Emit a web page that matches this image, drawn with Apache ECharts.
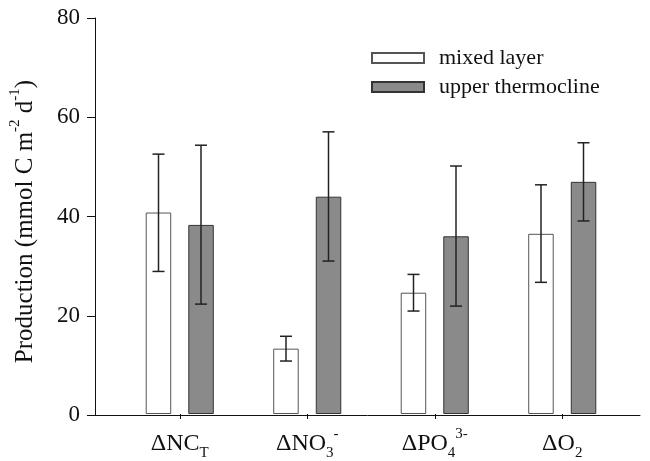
<!DOCTYPE html>
<html>
<head>
<meta charset="utf-8">
<script src="https://cdn.jsdelivr.net/npm/echarts@6/dist/echarts.min.js"></script>
<style>
html,body{margin:0;padding:0;background:#fff;}
#chart{width:650px;height:461px;}
</style>
</head>
<body>
<div id="chart"></div>
<script>
// categories and values
var categories = ['{m|ΔNC}{sub|T}', '{m|ΔNO}{sub|3}{sup|-}', '{m|ΔPO}{sub|4}{sup|3-}', '{m|ΔO}{sub|2}'];
var mixedLayer = [40.7, 13.2, 24.5, 36.4];
var mixedLow = [28.8, 10.7, 20.8, 26.6];
var mixedHigh = [52.5, 15.7, 28.2, 46.3];
var upperThermo = [38.2, 43.9, 35.9, 46.9];
var upperLow = [22.2, 30.9, 21.8, 39.0];
var upperHigh = [54.3, 57.0, 50.1, 54.8];
var yTicks = [0, 20, 40, 60, 80];

var serif = 'Liberation Serif';
var chart = echarts.init(document.getElementById('chart'));

var errData = [];
mixedLayer.forEach(function (v, i) {
    errData.push([i, mixedLow[i], mixedHigh[i], -1]);
    errData.push([i, upperLow[i], upperHigh[i], 1]);
});

function renderErr(params, api) {
    var idx = api.value(0);
    var lo = api.coord([idx, api.value(1)]);
    var hi = api.coord([idx, api.value(2)]);
    var band = api.size([1, 0])[0];
    var x = lo[0] + api.value(3) * band / 6;
    var cap = 6;
    var st = { stroke: '#222', lineWidth: 1.5 };
    return {
        type: 'group',
        children: [
            { type: 'line', shape: { x1: x, y1: hi[1], x2: x, y2: lo[1] }, style: st },
            { type: 'line', shape: { x1: x - cap, y1: hi[1], x2: x + cap, y2: hi[1] }, style: st },
            { type: 'line', shape: { x1: x - cap, y1: lo[1], x2: x + cap, y2: lo[1] }, style: st }
        ]
    };
}

function rich(size) {
    return {
        m: { fontFamily: serif, fontSize: size, color: '#111', lineHeight: size + 10 },
        sub: { fontFamily: serif, fontSize: 15, color: '#111', verticalAlign: 'bottom' },
        sup: { fontFamily: serif, fontSize: 15, color: '#111', verticalAlign: 'top' }
    };
}

var option = {
    animation: false,
    backgroundColor: '#fff',
    grid: [
        { left: 95, right: 10, top: 18, bottom: 46 },
        { left: 116, right: 24, top: 18, bottom: 46 }
    ],
    legend: {
        data: ['mixed layer', 'upper thermocline'],
        orient: 'vertical',
        icon: 'rect',
        left: 366,
        top: 42,
        itemWidth: 52,
        itemHeight: 10,
        itemGap: 7,
        textStyle: { fontFamily: serif, fontSize: 22, lineHeight: 22, color: '#111', padding: [0, 0, 0, 10] }
    },
    xAxis: [
        {
            type: 'value', gridIndex: 0, min: 0, max: 1,
            axisLine: { show: true, lineStyle: { color: '#111', width: 1 } },
            axisTick: { show: false }, axisLabel: { show: false }, splitLine: { show: false }
        },
        {
            type: 'category', gridIndex: 1, data: categories,
            axisLine: { show: false },
            axisTick: { show: true, alignWithLabel: true, length: 5, lineStyle: { color: '#111' } },
            axisLabel: { interval: 0, margin: 13, rich: rich(24), formatter: function (v) { return v; } },
            splitLine: { show: false }
        }
    ],
    yAxis: [
        {
            type: 'value', gridIndex: 0, min: yTicks[0], max: yTicks[yTicks.length - 1], interval: 20,
            axisLine: { show: true, lineStyle: { color: '#111', width: 1 } },
            axisTick: { show: true, length: 8, lineStyle: { color: '#111' } },
            axisLabel: { margin: 15, fontFamily: serif, fontSize: 23, color: '#111' },
            splitLine: { show: false },
            name: '{m|Production (mmol C m}{sup|-2}{m| d}{sup|-1}{m|)}',
            nameLocation: 'middle',
            nameGap: 52,
            nameTextStyle: { rich: rich(25), padding: [0, 10, 0, 0] }
        },
        {
            type: 'value', gridIndex: 1, min: 0, max: 80, show: false
        }
    ],
    series: [
        {
            name: 'mixed layer', type: 'bar', xAxisIndex: 1, yAxisIndex: 1,
            data: mixedLayer, barWidth: 25.5, barGap: '67%',
            itemStyle: { color: '#fff', borderColor: '#555', borderWidth: 1 }
        },
        {
            name: 'upper thermocline', type: 'bar', xAxisIndex: 1, yAxisIndex: 1,
            data: upperThermo, barWidth: 25.5, barGap: '67%',
            itemStyle: { color: '#8a8a8a', borderColor: '#333', borderWidth: 1 }
        },
        {
            type: 'custom', xAxisIndex: 1, yAxisIndex: 1,
            data: errData, renderItem: renderErr, z: 5, silent: true
        }
    ]
};

chart.setOption(option);
</script>
</body>
</html>
